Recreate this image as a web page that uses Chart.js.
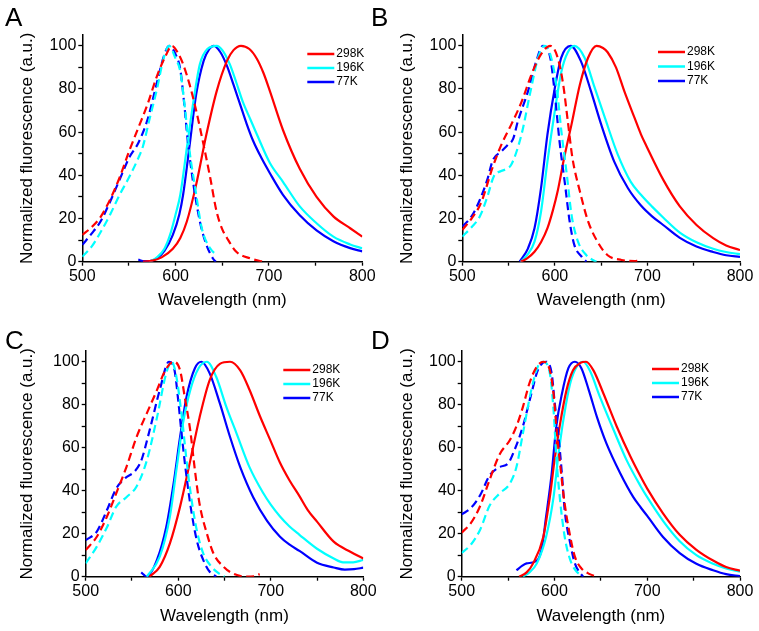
<!DOCTYPE html>
<html>
<head>
<meta charset="utf-8">
<script src="https://cdn.jsdelivr.net/npm/chart.js@4"></script>
<style>
  body { margin: 0; background: #fff; }
  #wrap { position: relative; width: 759px; height: 631px; }
  canvas { position: absolute; }
  .tag { position: absolute; font: 26px "Liberation Sans", Arial, sans-serif; line-height: 1; color: #000; }
</style>
</head>
<body>
<div id="wrap">
  <canvas id="chartA" style="left:0;top:0" width="380" height="315"></canvas>
  <canvas id="chartB" style="left:380px;top:0" width="379" height="315"></canvas>
  <canvas id="chartC" style="left:0;top:315px" width="380" height="316"></canvas>
  <canvas id="chartD" style="left:380px;top:315px" width="379" height="316"></canvas>
  <div class="tag" style="left:5px;top:4px">A</div>
  <div class="tag" style="left:371px;top:4px">B</div>
  <div class="tag" style="left:5px;top:327px">C</div>
  <div class="tag" style="left:371px;top:327px">D</div>
</div>
<script>
var wavelengthTicks = [500, 550, 600, 650, 700, 750, 800];
var intensityTicks = [0, 10, 20, 30, 40, 50, 60, 70, 80, 90, 100];
var temperatures = ["298K", "196K", "77K"];
var colors = ["#ff0000", "#00ffff", "#0000ff"];

// [wavelength nm, normalized fluorescence], dashed = excitation, solid = emission
var exA298 = [[500,12.4],[510,16],[520,21],[530,29],[540,39],[550,51],[560,62],[570,73],[580,86],[590,96],[596,100],[602,97],[608,91.5],[615,82],[622,70],[630,54],[637,39],[644,23],[650,15],[655,11],[665,4.6],[680,1.5],[694,0]];
var exA196 = [[500,2.3],[510,7],[520,14],[530,22],[540,31],[550,39],[560,48],[565,53.5],[572,66],[580,80],[587,94],[593,100],[600,94],[605,88],[610,71],[615,51],[621,34],[628,15.5],[637,6.2],[644,3]];
var exA77 = [[500,7.8],[510,13],[520,19],[530,28],[540,38],[550,48],[560,55],[570,66],[580,83],[587,94.6],[593,100],[600,96],[605,89],[609,74],[613,56],[619,36],[626,18.6],[633,7.8],[640,1.5],[643,0]];
var emA298 = [[565,0],[575,0.5],[585,2],[597,6],[605,11],[612,18.6],[622,35.7],[633,59],[644,79],[655,93],[662,98],[670,100],[679,98.5],[687,94],[694,87.5],[701,79],[715,61],[733,43],[751,30],[769,21],[787,15.5],[800,11.6]];
var emA196 = [[572,0],[580,2],[588,6],[594,12.4],[600,22],[605,31],[612,52.7],[619,74],[626,91.5],[634,98.5],[644,100],[650,98],[658,91.5],[665,83],[672,74],[680,66],[687,59],[701,45.7],[715,37],[733,25.6],[751,17.8],[769,11.6],[787,8],[800,6.2]];
var emA77 = [[560,1],[565,0.3],[572,0.3],[580,1.5],[588,5],[597,12.4],[604,22],[608,31],[615,54],[622,77.5],[630,93],[636,98.5],[641,100],[648,97],[655,90.7],[662,82],[669,73],[676,64],[683,56],[692,48],[701,41],[715,31],[733,21.5],[751,14.5],[769,9.5],[787,6.3],[800,4.8]];

var exB298 = [[500,14.7],[510,20],[520,27],[533,44],[542,54],[553,63.6],[564,74],[575,87],[585,96],[595,100],[603,94.6],[609,82],[614,65],[619,48],[627,32.6],[636,18.6],[646,9.3],[657,3],[672,0.8],[686,0.3],[690,0.5]];
var exB196 = [[500,11.6],[510,16],[519,21],[527,30],[534,39.5],[542,42],[548,43],[553,45],[564,59],[573,77.5],[582,94.6],[589,100],[596,94.6],[602,80.6],[607,60.5],[613,40],[618,21.7],[625,9.3],[634,3],[641,0.8],[645,0]];
var exB77 = [[500,16.3],[510,21],[519,28.7],[527,38],[533,47],[542,51],[549,54],[555,57],[560,65],[571,79],[580,93],[587,100],[595,94.6],[600,77.5],[605,55.8],[611,35.7],[616,18.6],[621,7.8],[629,2.3],[634,0]];
var emB298 = [[563,0],[570,1.5],[578,4.6],[585,9],[592,15.5],[598,24],[603,32.6],[610,48],[618,63.6],[627,82],[636,94.6],[645,100],[652,99],[657,97],[666,90],[675,79],[686,66.7],[693,59],[699,53.5],[717,38],[735,25.6],[753,17],[771,10.9],[785,7.5],[800,5.4]];
var emB196 = [[563,0],[570,3],[578,9.3],[585,23],[592,46.5],[600,70],[607,88],[614,97],[621,100],[632,94.6],[643,80.6],[654,66.7],[668,49.6],[682,37],[693,31],[705,25.5],[717,20.5],[735,13.5],[753,9],[771,6],[785,4.5],[800,3.5]];
var emB77 = [[562,0],[571,6.2],[578,15.5],[585,34],[592,59],[600,80.6],[607,94.6],[617,100],[628,93],[639,79],[650,63.6],[664,46.5],[679,34],[693,26],[705,21],[717,17],[735,11],[753,7],[771,4.5],[785,3],[800,2.2]];

var exC298 = [[500,12.4],[512,18.6],[523,28],[533,38.8],[544,51],[555,65],[566,76],[577,86.8],[586,96],[595,100],[602,96],[607,83.7],[613,68],[618,49.6],[623,34],[631,20],[638,10.9],[649,4.6],[659,1.5],[674,0],[682,0.2],[688,1.2]];
var exC196 = [[500,6.2],[512,14],[523,23],[533,32.6],[544,37],[555,42],[566,54],[577,74],[587,94.6],[593,100],[598,93],[604,74],[609,54],[614,37],[620,21.7],[627,10.9],[636,4.6],[645,1.2],[650,0]];
var exC77 = [[500,17],[512,21],[523,31],[533,41],[543,46],[553,49],[560,54],[569,68],[580,86.8],[590,100],[596,96],[600,82],[604,65],[609,46.5],[614,31],[620,17],[627,7.8],[634,2.3],[641,0]];
var emC298 = [[569,0],[580,4.6],[591,15.5],[602,32.6],[613,54],[623,74],[634,91.5],[645,99],[656,100],[667,96],[677,87],[688,75],[699,64],[710,53],[720,45],[731,37.5],[740,31],[750,25.6],[768,16.3],[786,11.6],[800,8.5]];
var emC196 = [[566,0],[580,9.3],[591,28],[598,49.6],[605,71],[613,86.8],[622,97],[631,100],[641,93],[652,79],[663,66.7],[677,51],[692,38.8],[700,33.5],[710,28],[720,23.5],[731,19.5],[750,13],[768,8.5],[778,6.7],[789,6.7],[800,7.8]];
var emC77 = [[560,2],[563,0.8],[566,0],[577,7.8],[587,23],[595,43.4],[602,65],[609,83.7],[618,97],[625,100],[634,94.6],[645,80.6],[656,65],[667,51],[681,37],[696,26],[710,18.6],[720,15],[731,12],[750,6.5],[768,4.3],[780,3.3],[790,3.5],[800,4.2]];

var exD298 = [[500,20.5],[510,25],[520,33],[530,45],[541,57],[552,63.6],[559,70],[566,79],[573,90],[581,97.7],[588,100],[595,96],[599,85],[602,70],[606,52.7],[611,34],[617,18.6],[622,9.3],[629,3.9],[638,1.2],[646,0]];
var exD196 = [[500,11],[510,15],[520,22],[530,33],[541,38.8],[552,43.4],[559,51],[566,66.7],[575,86.8],[582,97.7],[588,100],[595,94.6],[599,77.5],[602,55.8],[606,35.7],[611,18.6],[617,7.8],[624,2.3],[629,0.8]];
var exD77 = [[500,29],[510,32],[520,38],[530,47],[541,51],[550,52.7],[557,59],[566,70],[575,85],[582,96],[591,100],[597,94.6],[600,82],[604,66.7],[608,48],[611,31],[617,15.5],[622,6.2],[628,1.5],[631,0]];
var emD298 = [[562,0],[570,2],[577,6.2],[588,18.6],[595,37],[600,54],[606,71],[613,86.8],[620,96],[628,99.5],[634,100],[642,96],[653,85],[667,70],[682,55.8],[693,46.5],[700,41],[717,29.5],[735,19.5],[753,12.5],[771,7.5],[785,4.5],[800,2.8]];
var emD196 = [[566,0],[573,2],[581,6.2],[591,18.6],[599,37],[604,55.8],[610,74],[617,90],[624,97.7],[631,100],[638,96],[649,83.7],[664,68],[678,54],[693,42],[700,37],[717,26],[735,16.5],[753,10],[771,6],[785,3.8],[800,2.3]];
var emD77 = [[559,3],[565,5],[570,6.2],[579,7],[586,12.4],[591,28],[597,48],[602,70],[608,85],[615,97],[622,100],[629,97],[637,86.8],[646,74],[656,62],[671,48],[685,37],[693,32.2],[700,28.3],[717,18.5],[735,11],[753,6],[771,3],[785,1.2],[800,0.3]];

Chart.defaults.font.family = "'Liberation Sans', Arial, sans-serif";
Chart.defaults.color = "#000";

function series(points, i, dashed) {
  return {
    label: temperatures[i],
    data: points.map(function(p) { return {x: p[0], y: p[1]}; }),
    borderColor: colors[i],
    backgroundColor: colors[i],
    borderWidth: 2.2,
    borderDash: dashed ? [8, 4.5] : [],
    pointRadius: 0,
    cubicInterpolationMode: "monotone",
    inLegend: !dashed
  };
}

// legend with short solid lines, inside the plot at top right
var lineLegend = {
  id: "lineLegend",
  afterDatasetsDraw: function(chart, args, opts) {
    var ctx = chart.ctx;
    var x = chart.chartArea.right - opts.dx;
    var y = chart.chartArea.top + opts.dy;
    ctx.save();
    ctx.font = "12px 'Liberation Sans', Arial, sans-serif";
    ctx.textBaseline = "middle";
    chart.data.datasets.forEach(function(ds) {
      if (!ds.inLegend) return;
      ctx.strokeStyle = ds.borderColor;
      ctx.lineWidth = 2.5;
      ctx.setLineDash([]);
      ctx.beginPath();
      ctx.moveTo(x, y);
      ctx.lineTo(x + 27, y);
      ctx.stroke();
      ctx.fillStyle = "#000";
      ctx.fillText(ds.label, x + 29, y);
      y += opts.gap;
    });
    ctx.restore();
  }
};

function makeChart(id, ex, em, box, leg) {
  var sets = [];
  ex.forEach(function(p, i) { sets.push(series(p, i, true)); });
  em.forEach(function(p, i) { sets.push(series(p, i, false)); });
  new Chart(document.getElementById(id), {
    type: "line",
    data: { datasets: sets },
    options: {
      responsive: false,
      animation: false,
      layout: { padding: { left: 0, top: box.top, right: box.right, bottom: 0 } },
      plugins: {
        legend: { display: false },
        tooltip: { enabled: false },
        lineLegend: leg
      },
      scales: {
        x: {
          type: "linear",
          min: 500,
          max: 800,
          afterBuildTicks: function(s) { s.ticks = wavelengthTicks.map(function(v) { return {value: v}; }); },
          afterFit: function(s) { s.height = box.xh; },
          ticks: {
            autoSkip: false,
            maxRotation: 0,
            padding: 3,
            font: { size: 16, lineHeight: 1 },
            callback: function(v) { return v % 100 === 0 ? v : ""; }
          },
          grid: { drawOnChartArea: false, tickLength: 4, tickColor: "#000", tickWidth: 1.3 },
          border: { color: "#000", width: 1.5 },
          title: { display: true, text: "Wavelength (nm)", font: { size: 17 }, padding: { top: 0, bottom: 4 } }
        },
        y: {
          min: 0,
          max: 105,
          afterBuildTicks: function(s) { s.ticks = intensityTicks.map(function(v) { return {value: v}; }); },
          afterFit: function(s) { s.width = box.yw; },
          ticks: {
            autoSkip: false,
            padding: 2,
            font: { size: 16 },
            callback: function(v) { return v % 20 === 0 ? v : ""; }
          },
          grid: { drawOnChartArea: false, tickLength: 4, tickColor: "#000", tickWidth: 1.3 },
          border: { color: "#000", width: 1.5 },
          title: { display: true, text: "Normalized fluorescence (a.u.)", font: { size: 17 }, padding: { top: 17, bottom: 0 } }
        }
      }
    },
    plugins: [lineLegend]
  });
}

makeChart("chartA", [exA298, exA196, exA77], [emA298, emA196, emA77],
  { top: 35, right: 17.7, yw: 82.3, xh: 53.3 }, { dx: 55, dy: 19, gap: 14 });
makeChart("chartB", [exB298, exB196, exB77], [emB298, emB196, emB77],
  { top: 35, right: 19, yw: 82.3, xh: 53.3 }, { dx: 82, dy: 17, gap: 14.5 });
makeChart("chartC", [exC298, exC196, exC77], [emC298, emC196, emC77],
  { top: 36, right: 16.7, yw: 85.7, xh: 54.3 }, { dx: 80, dy: 19, gap: 14 });
makeChart("chartD", [exD298, exD196, exD77], [emD298, emD196, emD77],
  { top: 36, right: 19, yw: 81.7, xh: 54.3 }, { dx: 88, dy: 18, gap: 14 });
</script>
</body>
</html>
